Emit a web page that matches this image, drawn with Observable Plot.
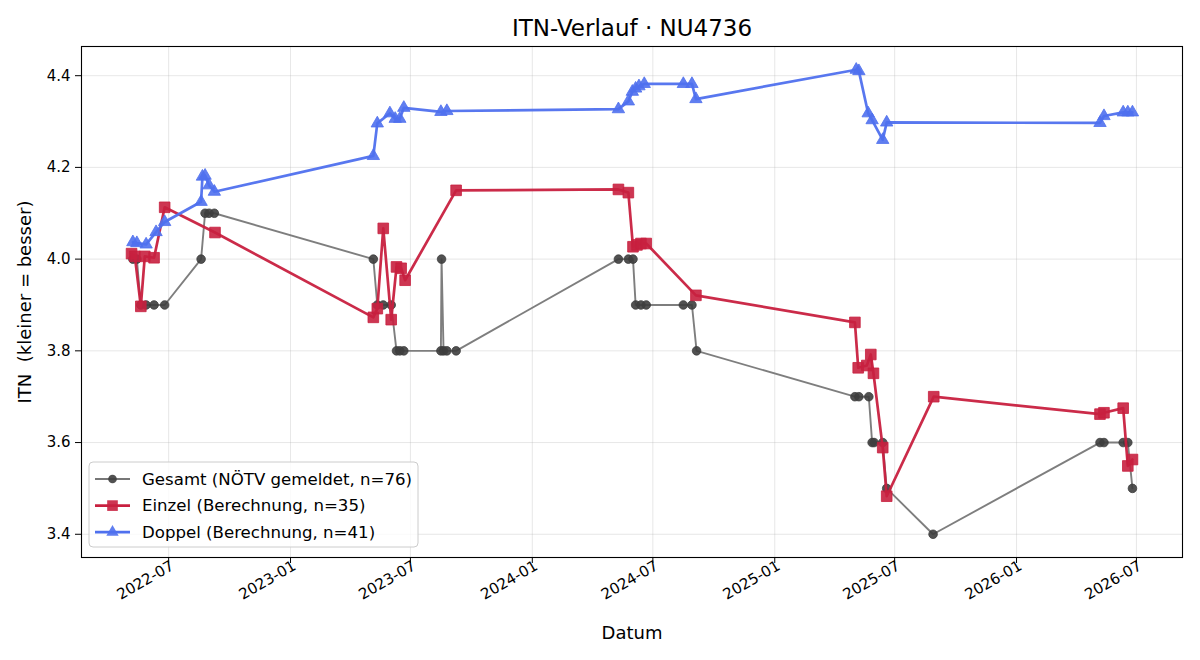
<!DOCTYPE html>
<html>
<head>
<meta charset="utf-8">
<script src="https://cdn.jsdelivr.net/npm/d3@7"></script>
<script src="https://cdn.jsdelivr.net/npm/@observablehq/plot@0.6"></script>
<style>
  body { margin: 0; background: #fff; }
  svg text { white-space: pre; }
</style>
</head>
<body>
<div id="chart"></div>
<script>
// Gesamt: reported ITN (NÖTV), 0.1 steps
const gesamtDates = [
  "2022-05-08","2022-05-14","2022-05-20","2022-05-28","2022-06-09","2022-06-25",
  "2022-08-19","2022-08-25","2022-08-31","2022-09-08",
  "2023-05-06","2023-05-12","2023-05-21","2023-06-02","2023-06-10","2023-06-15","2023-06-21",
  "2023-08-16","2023-08-17","2023-08-20","2023-08-25","2023-09-08",
  "2024-05-10","2024-05-25","2024-06-01","2024-06-05","2024-06-13","2024-06-21",
  "2024-08-16","2024-08-29","2024-09-05",
  "2025-05-02","2025-05-08","2025-05-23","2025-05-28","2025-05-31","2025-06-13","2025-06-19",
  "2025-08-28",
  "2026-05-07","2026-05-13","2026-06-11","2026-06-18","2026-06-25"
];
const gesamtITN = [
  4.0, 4.0, 3.9, 3.9, 3.9, 3.9,
  4.0, 4.1, 4.1, 4.1,
  4.0, 3.9, 3.9, 3.9, 3.8, 3.8, 3.8,
  3.8, 4.0, 3.8, 3.8, 3.8,
  4.0, 4.0, 4.0, 3.9, 3.9, 3.9,
  3.9, 3.9, 3.8,
  3.7, 3.7, 3.7, 3.6, 3.6, 3.6, 3.5,
  3.4,
  3.6, 3.6, 3.6, 3.6, 3.5
];

// Einzel: computed singles ITN
const einzelDates = [
  "2022-05-06","2022-05-11","2022-05-20","2022-05-26","2022-06-09","2022-06-25","2022-09-09",
  "2023-05-06","2023-05-12","2023-05-21","2023-06-02","2023-06-10","2023-06-17","2023-06-23","2023-09-08",
  "2024-05-10","2024-05-25","2024-06-01","2024-06-07","2024-06-13","2024-06-21","2024-09-04",
  "2025-05-02","2025-05-07","2025-05-20","2025-05-26","2025-05-30","2025-06-13","2025-06-19","2025-08-29",
  "2026-05-07","2026-05-13","2026-06-11","2026-06-18","2026-06-25"
];
const einzelITN = [
  4.012, 4.006, 3.897, 4.006, 4.003, 4.113, 4.058,
  3.873, 3.892, 4.067, 3.868, 3.983, 3.980, 3.954, 4.150,
  4.152, 4.145, 4.027, 4.031, 4.034, 4.034, 3.921,
  3.862, 3.763, 3.768, 3.792, 3.751, 3.589, 3.483, 3.700,
  3.662, 3.665, 3.675, 3.549, 3.563
];

// Doppel: computed doubles ITN
const doppelDates = [
  "2022-05-08","2022-05-14","2022-05-28","2022-06-12","2022-06-25",
  "2022-08-19","2022-08-21","2022-08-25","2022-08-31","2022-09-08",
  "2023-05-06","2023-05-12","2023-05-31","2023-06-08","2023-06-15","2023-06-21","2023-08-16","2023-08-25",
  "2024-05-10","2024-05-25","2024-05-31","2024-06-05","2024-06-10","2024-06-18",
  "2024-08-16","2024-08-29","2024-09-04",
  "2025-05-04","2025-05-08","2025-05-22","2025-05-28","2025-06-13","2025-06-19",
  "2026-05-07","2026-05-13","2026-06-11","2026-06-18","2026-06-25"
];
const doppelITN = [
  4.037, 4.035, 4.032, 4.059, 4.081,
  4.125, 4.180, 4.182, 4.161, 4.147,
  4.225, 4.296, 4.318, 4.306, 4.306, 4.330, 4.321, 4.323,
  4.327, 4.344, 4.365, 4.372, 4.377, 4.382,
  4.382, 4.382, 4.349,
  4.413, 4.410, 4.318, 4.303, 4.260, 4.298,
  4.297, 4.312, 4.320, 4.320, 4.320
];

// Axis ticks
const xTickDates = [
  "2022-07-01","2023-01-01","2023-07-01","2024-01-01","2024-07-01",
  "2025-01-01","2025-07-01","2026-01-01","2026-07-01"
];
const yTicks = [3.4, 3.6, 3.8, 4.0, 4.2, 4.4];

const seriesLabels = [
  "Gesamt (NÖTV gemeldet, n=76)",
  "Einzel (Berechnung, n=35)",
  "Doppel (Berechnung, n=41)"
];

const parse = d3.utcParse("%Y-%m-%d");
const rows = (dates, values) => dates.map((d, i) => ({date: parse(d), itn: values[i]}));
const gesamt = rows(gesamtDates, gesamtITN);
const einzel = rows(einzelDates, einzelITN);
const doppel = rows(doppelDates, doppelITN);
const xTicks = xTickDates.map(parse);

// 5% padding around the data on both axes
const all = [...gesamt, ...einzel, ...doppel];
const [xa, xb] = d3.extent(all, d => d.date);
const [ya, yb] = d3.extent(all, d => d.itn);
const pad = 0.05;
const xDomain = [new Date(+xa - pad * (xb - xa)), new Date(+xb + pad * (xb - xa))];
const yDomain = [ya - pad * (yb - ya), yb + pad * (yb - ya)];

const styles = [
  {data: gesamt, line: "#777777", lw: 1.9, fill: "#3e3e3e", symbol: "circle", r: 4.3, d3sym: d3.symbolCircle},
  {data: einzel, line: "#c8203f", lw: 2.7, fill: "#c8203f", symbol: "square", r: 6.0, d3sym: d3.symbolSquare},
  {data: doppel, line: "#4f70ee", lw: 2.7, fill: "#4f70ee", symbol: "triangle", r: 4.6, d3sym: d3.symbolTriangle}
];

const gridStyle = {stroke: "#b0b0b0", strokeOpacity: 0.3, strokeWidth: 1};

const marks = [
  Plot.gridX(xTicks, gridStyle),
  Plot.gridY(yTicks, gridStyle)
];
for (const s of styles) {
  marks.push(Plot.line(s.data, {x: "date", y: "itn", stroke: s.line, strokeWidth: s.lw, strokeOpacity: 0.95}));
  marks.push(Plot.dot(s.data, {x: "date", y: "itn", symbol: s.symbol, r: s.r, fill: s.fill, fillOpacity: 0.9, stroke: s.fill, strokeWidth: 0.8}));
}
marks.push(
  Plot.frame({stroke: "#000", strokeWidth: 1.1}),
  // tick marks on the x axis, labels drawn separately (rotated)
  Plot.axisX(xTicks, {tickSize: 6, tickFormat: () => "", label: null}),
  Plot.axisX(xTicks, {tickFormat: d3.utcFormat("%Y-%m"), tickRotate: -30, tickSize: 0, tickPadding: 7, dx: 4, label: null, fontSize: 15}),
  Plot.axisY(yTicks, {tickFormat: d3.format(".1f"), tickSize: 6, tickPadding: 5, label: null, fontSize: 15}),
  Plot.text(["ITN-Verlauf · NU4736"], {text: d => d, frameAnchor: "top", lineAnchor: "middle", dy: -18, fontSize: 23}),
  Plot.text(["Datum"], {text: d => d, frameAnchor: "bottom", lineAnchor: "middle", dy: 76, fontSize: 18}),
  Plot.text(["ITN  (kleiner = besser)"], {text: d => d, frameAnchor: "left", textAnchor: "middle", lineAnchor: "middle", dx: -56, rotate: -90, fontSize: 18})
);

const chart = Plot.plot({
  width: 1200,
  height: 660,
  marginLeft: 81,
  marginRight: 18,
  marginTop: 46,
  marginBottom: 103,
  style: {fontFamily: "'DejaVu Sans', sans-serif", fontSize: "15px", background: "#fff", color: "#000", overflow: "visible"},
  x: {type: "utc", domain: xDomain},
  y: {domain: yDomain},
  marks
});

// Legend in the lower-left corner of the plot area
const svg = d3.select(chart);
const lg = svg.append("g").attr("transform", "translate(89,462)");
lg.append("rect")
  .attr("width", 329).attr("height", 85).attr("rx", 4)
  .attr("fill", "#fff").attr("fill-opacity", 0.8)
  .attr("stroke", "#cccccc").attr("stroke-width", 1);
styles.forEach((s, i) => {
  const y = 17 + i * 26.6;
  lg.append("line")
    .attr("x1", 6).attr("x2", 41).attr("y1", y).attr("y2", y)
    .attr("stroke", s.line).attr("stroke-width", s.lw);
  lg.append("path")
    .attr("transform", `translate(23.5,${y})`)
    .attr("d", d3.symbol(s.d3sym, s.r * s.r * Math.PI)())
    .attr("fill", s.fill).attr("fill-opacity", 0.9);
  lg.append("text")
    .attr("x", 53).attr("y", y).attr("dy", "0.35em")
    .attr("text-anchor", "start")
    .attr("font-size", 16.6)
    .text(seriesLabels[i]);
});

document.getElementById("chart").appendChild(chart);
</script>
</body>
</html>
